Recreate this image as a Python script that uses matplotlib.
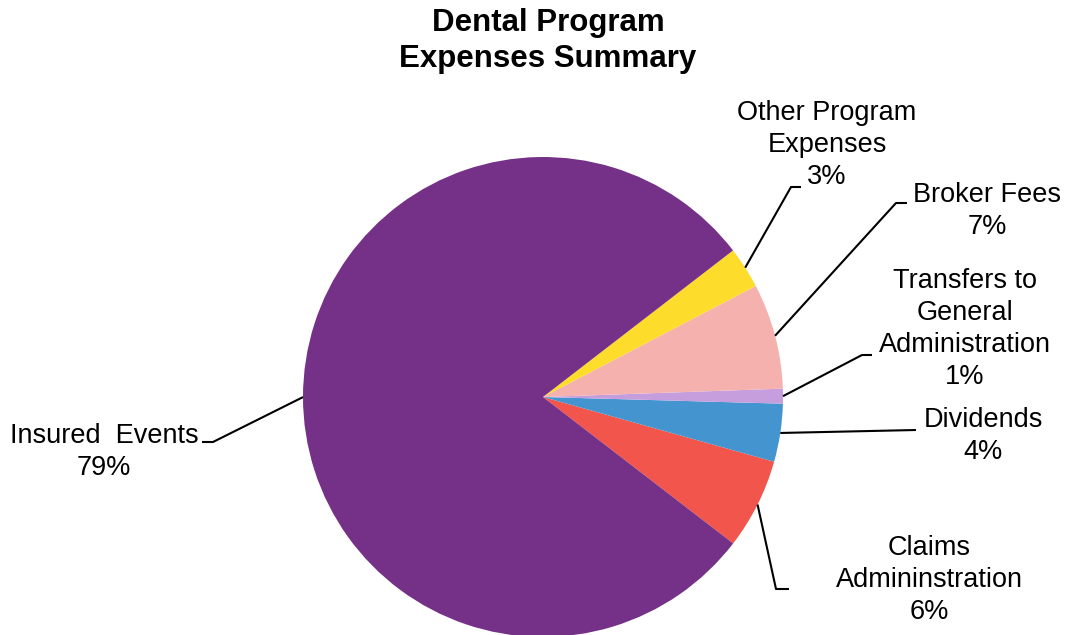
import numpy as np
import matplotlib.pyplot as plt

plt.rcParams['font.family'] = ['Liberation Sans', 'DejaVu Sans']

# slices, counterclockwise starting from the lower right
categories = ["Claims\nAdmininstration", "Dividends", "Transfers to\nGeneral\nAdministration",
              "Broker Fees", "Other Program\nExpenses", "Insured  Events"]
values = [6.1, 3.9, 1.0, 7.1, 2.8, 79.1]
pct_labels = ["6%", "4%", "1%", "7%", "3%", "79%"]
colors = ["#F1554C", "#4394CF", "#C79EDD", "#F5B1AE", "#FDDC2B", "#753187"]

W, H = 1068, 635
fig = plt.figure(figsize=(W / 100, H / 100), dpi=100)
ax = fig.add_axes([0, 0, 1, 1])

cx, cy, r = 543, H - 397, 240
wedges, _ = ax.pie(values, colors=colors, startangle=-37.6, counterclock=True,
                   center=(cx, cy), radius=r, frame=True,
                   wedgeprops=dict(linewidth=0))
ax.set_xlim(0, W)
ax.set_ylim(0, H)
ax.set_aspect('equal')
ax.axis('off')

# label layout (pixel coords from top): elbow point, line end, text centre
layout = [
    ((776, 589), (789, 589), (929, 580)),
    ((916, 430), (916, 430), (983, 436)),
    ((862, 355), (872, 355), (965, 329)),
    ((896, 203), (907, 203), (987, 211)),
    ((791, 187), (801, 187), (827, 145)),
    ((213, 442), (202, 442), (104, 452)),
]

for w, cat, pct, (elb, end, txt) in zip(wedges, categories, pct_labels, layout):
    mid = np.deg2rad((w.theta1 + w.theta2) / 2)
    sx, sy = cx + r * np.cos(mid), cy + r * np.sin(mid)
    xs = [sx, elb[0], end[0]]
    ys = [sy, H - elb[1], H - end[1]]
    ax.plot(xs, ys, color='black', lw=1.5, solid_capstyle='butt')
    ax.text(txt[0], H - txt[1], cat + "\n" + pct, ha='center', va='center',
            fontsize=19.5, linespacing=1.3, color='black')

ax.text(548, H - 41, "Dental Program\nExpenses Summary", ha='center', va='center',
        fontsize=22.5, fontweight='bold', linespacing=1.25)

fig.savefig("out.png", dpi=100)
